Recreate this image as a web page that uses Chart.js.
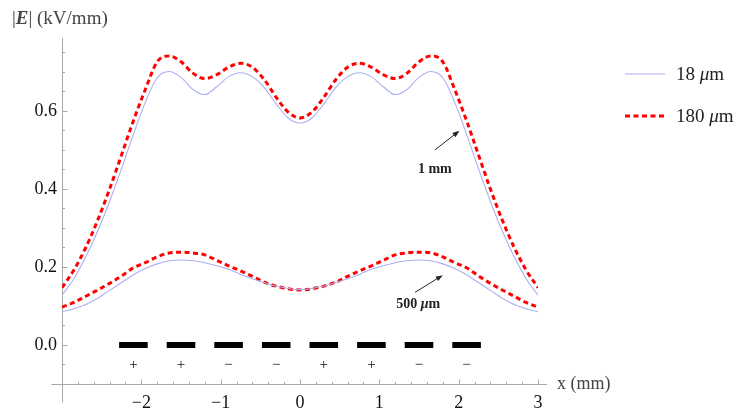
<!DOCTYPE html>
<html><head><meta charset="utf-8">
<script src="https://cdn.jsdelivr.net/npm/chart.js@4.4.0/dist/chart.umd.min.js"></script>
<style>html,body{margin:0;padding:0;background:#fff;}canvas{display:block;}</style>
</head><body>
<canvas id="c" width="738" height="415"></canvas>
<script>
// ---- data ----
const xPositions = [-3,-2.85,-2.7,-2.55,-2.4,-2.25,-2.1,-1.95,-1.8,-1.65,-1.5,-1.35,-1.2,-1.05,-0.9,-0.75,-0.6,-0.45,-0.3,-0.15,0,
  0.15,0.3,0.45,0.6,0.75,0.9,1.05,1.2,1.35,1.5,1.65,1.8,1.95,2.1,2.25,2.4,2.55,2.7,2.85,3];
const field1mm18um = [0.128,0.170,0.226,0.292,0.368,0.452,0.540,0.622,0.685,0.701,0.686,0.655,0.642,0.662,0.688,0.698,0.688,0.660,0.618,0.582,0.569,
  0.582,0.618,0.660,0.688,0.698,0.688,0.662,0.642,0.655,0.686,0.701,0.685,0.622,0.540,0.452,0.368,0.292,0.226,0.170,0.128];
const field1mm180um = [0.147,0.192,0.250,0.320,0.400,0.487,0.575,0.655,0.726,0.741,0.726,0.697,0.683,0.693,0.712,0.722,0.712,0.680,0.635,0.597,0.582,
  0.597,0.635,0.680,0.712,0.722,0.712,0.693,0.683,0.697,0.726,0.741,0.726,0.655,0.575,0.487,0.400,0.320,0.250,0.192,0.147];
const field500um18um = [0.085,0.093,0.104,0.120,0.140,0.160,0.180,0.196,0.208,0.216,0.218,0.216,0.211,0.203,0.194,0.181,0.170,0.160,0.151,0.145,0.142,
  0.145,0.151,0.160,0.170,0.181,0.194,0.203,0.211,0.216,0.218,0.216,0.208,0.196,0.180,0.160,0.140,0.120,0.104,0.093,0.085];
const field500um180um = [0.097,0.109,0.125,0.141,0.158,0.177,0.198,0.211,0.226,0.236,0.238,0.236,0.231,0.217,0.203,0.190,0.176,0.161,0.151,0.144,0.141,
  0.144,0.151,0.161,0.176,0.190,0.203,0.217,0.231,0.236,0.238,0.236,0.226,0.211,0.198,0.177,0.158,0.141,0.125,0.109,0.097];
const electrodeCenters = [-2.1,-1.5,-0.9,-0.3,0.3,0.9,1.5,2.1];
const electrodeHalfWidth = 0.18;
const electrodeSigns = ['+','+','−','−','+','+','−','−'];
const xTickValues = [-2,-1,0,1,2,3];
const yTickValues = [0,0.2,0.4,0.6];
const seriesLabels = ['18 μm','180 μm'];
const curveLabels = ['1 mm','500 μm'];

// ---- styling ----
const SERIF = '"Liberation Serif","Times New Roman",serif';
const BLUE = '#aab0f2';
const RED = '#ff0000';
const AXIS = '#a9a9a9';

const pts = vals => vals.map((v,i)=>({x:xPositions[i], y:v}));
const electrodeData = [];
electrodeCenters.forEach(c=>{
  electrodeData.push({x:c-electrodeHalfWidth,y:0},{x:c+electrodeHalfWidth,y:0},{x:c+electrodeHalfWidth+0.01,y:null});
});

const blueStyle = {borderColor:BLUE, borderWidth:1.1, pointRadius:0, cubicInterpolationMode:'monotone', fill:false};
const redStyle = {borderColor:RED, borderWidth:3, borderDash:[5,3.5], borderCapStyle:'butt', pointRadius:0, cubicInterpolationMode:'monotone', fill:false};

function drawRich(ctx, parts, x, y, align){
  let w = 0;
  parts.forEach(p=>{ctx.font=p.f; w+=ctx.measureText(p.t).width;});
  let cx = align==='center' ? x-w/2 : (align==='right' ? x-w : x);
  ctx.textAlign='left'; ctx.textBaseline='middle';
  parts.forEach(p=>{ctx.font=p.f; ctx.fillText(p.t,cx,y); cx+=ctx.measureText(p.t).width;});
}
function muParts(label, size, weight){
  const w = weight ? weight+' ' : '';
  const parts = [];
  label.split(/(μ)/).forEach(s=>{
    if(!s) return;
    parts.push({t:s, f:(s==='μ'?'italic ':'')+w+size+'px '+SERIF});
  });
  return parts;
}
function arrow(ctx,x1,y1,x2,y2){
  const a=Math.atan2(y2-y1,x2-x1), L=7, W=2.6;
  ctx.beginPath(); ctx.moveTo(x1,y1); ctx.lineTo(x2-Math.cos(a)*L*0.8,y2-Math.sin(a)*L*0.8); ctx.stroke();
  ctx.beginPath(); ctx.moveTo(x2,y2);
  ctx.lineTo(x2-Math.cos(a)*L-Math.sin(a)*W, y2-Math.sin(a)*L+Math.cos(a)*W);
  ctx.lineTo(x2-Math.cos(a)*L+Math.sin(a)*W, y2-Math.sin(a)*L-Math.cos(a)*W);
  ctx.closePath(); ctx.fill();
}

const axesPlugin = {
  id:'mmaAxes',
  beforeDatasetsDraw(chart){
    const {ctx, scales:{x,y}} = chart;
    const x0 = Math.round(x.getPixelForValue(x.min))+0.5;
    const y0 = Math.round(y.getPixelForValue(y.min))+0.5;
    ctx.save();
    ctx.strokeStyle=AXIS; ctx.lineWidth=1;
    ctx.beginPath();
    ctx.moveTo(x0-11,y0); ctx.lineTo(x.getPixelForValue(x.max)+9,y0);
    ctx.moveTo(x0,y.top); ctx.lineTo(x0,y0+18);
    for(let i=-14;i<=15;i++){
      const px=Math.round(x.getPixelForValue(i*0.2))+0.5;
      const L = (i%5===0)?5:2.5;
      ctx.moveTo(px,y0); ctx.lineTo(px,y0-L);
    }
    for(let i=-1;i<=15;i++){
      const py=Math.round(y.getPixelForValue(i*0.05))+0.5;
      const L = (i%4===0)?5:2.5;
      ctx.moveTo(x0,py); ctx.lineTo(x0+L,py);
    }
    ctx.stroke();
    ctx.restore();
  },
  afterDatasetsDraw(chart){
    const {ctx, scales:{x,y}} = chart;
    ctx.save();
    ctx.fillStyle='#111';
    // electrode signs
    electrodeCenters.forEach((c,i)=>{
      ctx.font='15px '+SERIF; ctx.textAlign='center'; ctx.textBaseline='middle';
      ctx.fillText(electrodeSigns[i], x.getPixelForValue(c), y.getPixelForValue(-0.052));
    });
    // axis titles
    ctx.fillStyle='#444';
    drawRich(ctx,[{t:'|',f:'19px '+SERIF},{t:'E',f:'italic bold 19px '+SERIF},{t:'| (kV/mm)',f:'19px '+SERIF}],12,19,'left');
    drawRich(ctx,[{t:'x (mm)',f:'18px '+SERIF}],557,y.getPixelForValue(-0.1),'left');
    // curve annotations with arrows
    ctx.fillStyle='#222'; ctx.strokeStyle='#222'; ctx.lineWidth=1;
    arrow(ctx,x.getPixelForValue(1.70),y.getPixelForValue(0.50),x.getPixelForValue(2.01),y.getPixelForValue(0.549));
    drawRich(ctx,muParts(curveLabels[0],14,'bold'),x.getPixelForValue(1.70),y.getPixelForValue(0.449),'center');
    arrow(ctx,x.getPixelForValue(1.45),y.getPixelForValue(0.135),x.getPixelForValue(1.80),y.getPixelForValue(0.179));
    drawRich(ctx,muParts(curveLabels[1],14,'bold'),x.getPixelForValue(1.49),y.getPixelForValue(0.103),'center');
    // legend
    const ds = chart.data.datasets;
    [0,1].forEach((di,k)=>{
      const d = ds[di];
      const ly = 74 + k*42;
      ctx.save();
      ctx.strokeStyle=d.borderColor; ctx.lineWidth=d.borderWidth;
      ctx.setLineDash(d.borderDash||[]);
      ctx.beginPath(); ctx.moveTo(625,ly); ctx.lineTo(665,ly); ctx.stroke();
      ctx.restore();
      ctx.fillStyle='#222';
      drawRich(ctx,muParts(d.label,19,''),676,ly+1,'left');
    });
    ctx.restore();
  }
};

new Chart(document.getElementById('c'),{
  type:'line',
  data:{datasets:[
    Object.assign({label:seriesLabels[0], data:pts(field1mm18um)},blueStyle),
    Object.assign({label:seriesLabels[1], data:pts(field1mm180um)},redStyle),
    Object.assign({label:seriesLabels[0], data:pts(field500um18um)},blueStyle),
    Object.assign({label:seriesLabels[1], data:pts(field500um180um)},redStyle),
    {label:'electrodes', data:electrodeData, borderColor:'#000', borderWidth:6, borderCapStyle:'butt', pointRadius:0, spanGaps:false, tension:0}
  ]},
  options:{
    responsive:false, animation:false, devicePixelRatio:1,
    layout:{padding:{left:0,top:38,right:200,bottom:0}},
    plugins:{legend:{display:false},tooltip:{enabled:false}},
    scales:{
      x:{type:'linear',min:-3,max:3,
        grid:{display:false,drawTicks:false},border:{display:false},
        afterBuildTicks:s=>{s.ticks=xTickValues.map(v=>({value:v}));},
        afterFit:s=>{s.height=31;},
        ticks:{padding:8,color:'#111',font:{family:SERIF,size:18},maxRotation:0,autoSkip:false,
          callback:v=>v<0?'−'+Math.abs(v):String(v)}},
      y:{type:'linear',min:-0.1,max:0.787,
        grid:{display:false,drawTicks:false},border:{display:false},
        afterBuildTicks:s=>{s.ticks=yTickValues.map(v=>({value:v}));},
        afterFit:s=>{s.width=62;},
        ticks:{padding:5,color:'#111',font:{family:SERIF,size:18},autoSkip:false,
          callback:v=>Number(v).toFixed(1)}}
    }
  },
  plugins:[axesPlugin]
});
</script>
</body></html>
